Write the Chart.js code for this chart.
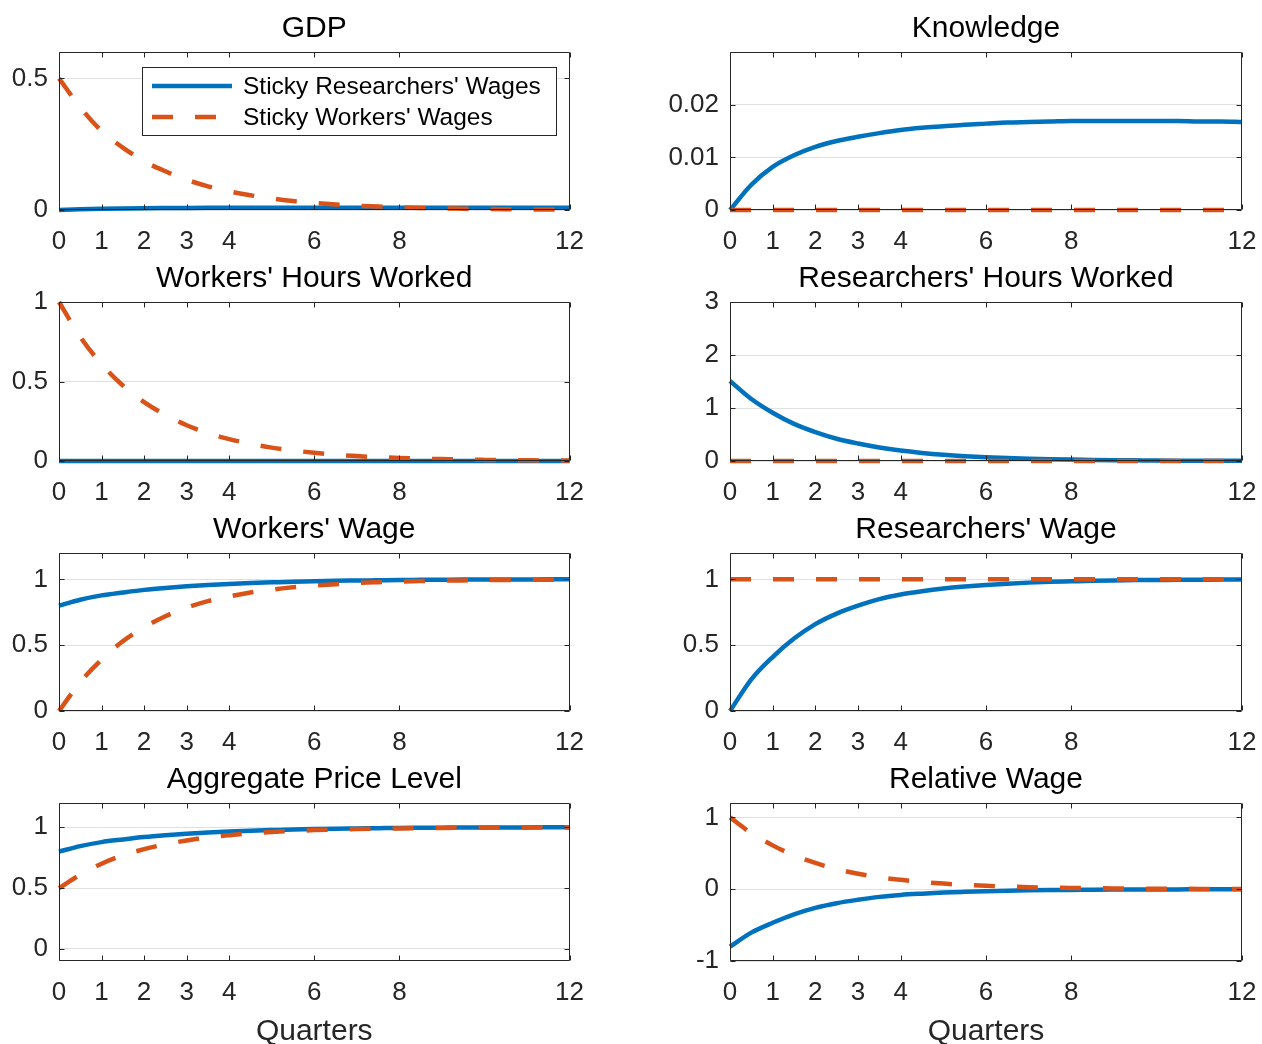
<!DOCTYPE html>
<html>
<head>
<meta charset="utf-8">
<script src="https://cdn.jsdelivr.net/npm/chart.js@4.4.1/dist/chart.umd.min.js"></script>
<style>
  html, body { margin: 0; padding: 0; background: #fff; width: 1262px; height: 1044px; overflow: hidden; }
  .panel { position: absolute; }
</style>
</head>
<body>
<script>
// quarters after the shock, and the tick positions on the x axis
const quarters = [0, 0.5, 1, 1.5, 2, 2.5, 3, 3.5, 4, 4.5, 5, 5.5, 6, 6.5, 7, 7.5, 8, 8.5, 9, 9.5, 10, 10.5, 11, 11.5, 12];
const xTicks = [0, 1, 2, 3, 4, 6, 8, 12];

const seriesNames = ["Sticky Researchers' Wages", "Sticky Workers' Wages"];

// GDP
const gdpResearchers = [0, 0.003, 0.0048, 0.006, 0.0069, 0.0075, 0.008, 0.0083, 0.0085, 0.0087, 0.0088, 0.0089, 0.009, 0.009, 0.009, 0.009, 0.009, 0.009, 0.009, 0.009, 0.0089, 0.0089, 0.0089, 0.0088, 0.0088];
const gdpWorkers = [0.5, 0.39, 0.30, 0.237, 0.185, 0.147, 0.115, 0.09, 0.071, 0.056, 0.044, 0.034, 0.027, 0.021, 0.016, 0.013, 0.01, 0.008, 0.006, 0.005, 0.004, 0.003, 0.0025, 0.002, 0.0015];
const gdpTicks = [0, 0.5];

// Knowledge
const knowResearchers = [0, 0.0048, 0.0082, 0.0104, 0.012, 0.0131, 0.0139, 0.0146, 0.0152, 0.0156, 0.0159, 0.0162, 0.0164, 0.0166, 0.0167, 0.0168, 0.0169, 0.0169, 0.0169, 0.0169, 0.0169, 0.0169, 0.0168, 0.0168, 0.0167];
const knowWorkers = [0, 0, 0, 0, 0, 0, 0, 0, 0, 0, 0, 0, 0, 0, 0, 0, 0, 0, 0, 0, 0, 0, 0, 0, 0];
const knowTicks = [0, 0.01, 0.02];

// Workers' hours worked
const whResearchers = [0, 0, 0, 0, 0, 0, 0, 0, 0, 0, 0, 0, 0, 0, 0, 0, 0, 0, 0, 0, 0, 0, 0, 0, 0];
const whWorkers = [1.0, 0.78, 0.61, 0.475, 0.37, 0.29, 0.225, 0.175, 0.138, 0.108, 0.084, 0.066, 0.052, 0.04, 0.031, 0.024, 0.019, 0.015, 0.012, 0.009, 0.007, 0.0055, 0.0045, 0.0035, 0.003];
const whTicks = [0, 0.5, 1];

// Researchers' hours worked
const rhResearchers = [1.51, 1.17, 0.91, 0.70, 0.545, 0.42, 0.33, 0.255, 0.197, 0.153, 0.118, 0.091, 0.071, 0.055, 0.042, 0.033, 0.026, 0.02, 0.015, 0.012, 0.009, 0.007, 0.0055, 0.004, 0.003];
const rhWorkers = [0, 0, 0, 0, 0, 0, 0, 0, 0, 0, 0, 0, 0, 0, 0, 0, 0, 0, 0, 0, 0, 0, 0, 0, 0];
const rhTicks = [0, 1, 2, 3];

// Workers' wage
const wwResearchers = [0.80, 0.845, 0.878, 0.90, 0.92, 0.935, 0.947, 0.957, 0.965, 0.972, 0.977, 0.982, 0.986, 0.989, 0.991, 0.993, 0.995, 0.996, 0.997, 0.998, 0.998, 0.999, 0.999, 1.0, 1.0];
const wwWorkers = [0, 0.22, 0.39, 0.53, 0.635, 0.72, 0.785, 0.835, 0.87, 0.90, 0.922, 0.94, 0.953, 0.963, 0.972, 0.978, 0.983, 0.987, 0.99, 0.992, 0.994, 0.995, 0.996, 0.997, 0.998];
const wwTicks = [0, 0.5, 1];

// Researchers' wage
const rwResearchers = [0, 0.24, 0.41, 0.55, 0.66, 0.74, 0.80, 0.85, 0.885, 0.91, 0.93, 0.945, 0.957, 0.967, 0.975, 0.981, 0.985, 0.989, 0.992, 0.994, 0.995, 0.996, 0.997, 0.998, 0.999];
const rwWorkers = [1, 1, 1, 1, 1, 1, 1, 1, 1, 1, 1, 1, 1, 1, 1, 1, 1, 1, 1, 1, 1, 1, 1, 1, 1];
const rwTicks = [0, 0.5, 1];

// Aggregate price level
const apResearchers = [0.80, 0.845, 0.878, 0.90, 0.92, 0.935, 0.947, 0.957, 0.965, 0.972, 0.977, 0.982, 0.986, 0.989, 0.991, 0.993, 0.995, 0.996, 0.997, 0.998, 0.998, 0.999, 0.999, 1.0, 1.0];
const apWorkers = [0.5, 0.61, 0.70, 0.77, 0.82, 0.86, 0.892, 0.917, 0.935, 0.95, 0.961, 0.97, 0.977, 0.982, 0.986, 0.989, 0.991, 0.993, 0.995, 0.996, 0.997, 0.998, 0.998, 0.999, 0.999];
const apTicks = [0, 0.5, 1];

// Relative wage
const relResearchers = [-0.80, -0.605, -0.468, -0.35, -0.26, -0.195, -0.147, -0.107, -0.08, -0.062, -0.047, -0.037, -0.029, -0.022, -0.016, -0.012, -0.01, -0.007, -0.005, -0.004, -0.003, -0.003, -0.002, -0.002, -0.001];
const relWorkers = [1, 0.78, 0.61, 0.47, 0.365, 0.28, 0.215, 0.165, 0.13, 0.10, 0.078, 0.06, 0.047, 0.037, 0.028, 0.022, 0.017, 0.013, 0.01, 0.008, 0.006, 0.005, 0.004, 0.003, 0.002];
const relTicks = [-1, 0, 1];

const BLUE = '#0072BD';
const ORANGE = '#D95319';
const AXIS = '#262626';
const FONT = "'Liberation Sans', Arial, Helvetica, sans-serif";

const panels = [
  { title: 'GDP', r: gdpResearchers, w: gdpWorkers, min: 0, max: 0.6, ticks: gdpTicks, col: 0, row: 0, legend: true },
  { title: 'Knowledge', r: knowResearchers, w: knowWorkers, min: 0, max: 0.03, ticks: knowTicks, col: 1, row: 0 },
  { title: "Workers' Hours Worked", r: whResearchers, w: whWorkers, min: 0, max: 1, ticks: whTicks, col: 0, row: 1 },
  { title: "Researchers' Hours Worked", r: rhResearchers, w: rhWorkers, min: 0, max: 3, ticks: rhTicks, col: 1, row: 1 },
  { title: "Workers' Wage", r: wwResearchers, w: wwWorkers, min: 0, max: 1.2, ticks: wwTicks, col: 0, row: 2 },
  { title: "Researchers' Wage", r: rwResearchers, w: rwWorkers, min: 0, max: 1.2, ticks: rwTicks, col: 1, row: 2 },
  { title: 'Aggregate Price Level', r: apResearchers, w: apWorkers, min: -0.1, max: 1.2, ticks: apTicks, col: 0, row: 3 },
  { title: 'Relative Wage', r: relResearchers, w: relWorkers, min: -1, max: 1.2, ticks: relTicks, col: 1, row: 3 },
];

// page geometry of the subplot grid
const colGeom = [
  { left: 0, width: 600, axisW: 59, padRight: 30 },
  { left: 640, width: 640, axisW: 90, padRight: 38 },
];
const rowTop = [52, 302, 553, 803];
const rowBottom = [210, 461, 711, 961];
const TITLE_H = 44;

// box + inward tick marks on all four sides, like MATLAB axes
const boxPlugin = {
  id: 'matlabBox',
  afterDatasetsDraw(chart) {
    const { ctx, chartArea: a, scales: { x, y } } = chart;
    const L = Math.round(a.left) + 0.5, R = Math.round(a.right) - 0.5;
    const T = Math.round(a.top) + 0.5, B = Math.round(a.bottom) - 0.5;
    ctx.save();
    ctx.strokeStyle = AXIS;
    ctx.lineWidth = 1;
    ctx.beginPath();
    xTicks.forEach(v => {
      const px = Math.round(x.getPixelForValue(v)) + 0.5;
      ctx.moveTo(px, B); ctx.lineTo(px, B - 5);
      ctx.moveTo(px, T); ctx.lineTo(px, T + 5);
    });
    y.ticks.forEach(t => {
      const py = Math.round(y.getPixelForValue(t.value)) + 0.5;
      ctx.moveTo(L, py); ctx.lineTo(L + 5, py);
      ctx.moveTo(R, py); ctx.lineTo(R - 5, py);
    });
    ctx.rect(L, T, R - L, B - T);
    ctx.stroke();
    ctx.restore();
  }
};

const legendPlugin = {
  id: 'matlabLegend',
  afterDraw(chart, args, opts) {
    if (!opts.show) return;
    const { ctx, chartArea: a } = chart;
    const bx = a.left + 83, by = a.top + 15, bw = 414, bh = 68;
    ctx.save();
    ctx.fillStyle = '#fff';
    ctx.fillRect(bx, by, bw, bh);
    ctx.strokeStyle = AXIS;
    ctx.lineWidth = 1;
    ctx.strokeRect(Math.round(bx) + 0.5, Math.round(by) + 0.5, bw, bh);
    const rows = [by + 19, by + 50];
    chart.data.datasets.forEach((ds, i) => {
      const yy = rows[i];
      ctx.strokeStyle = ds.borderColor;
      ctx.lineWidth = ds.borderWidth;
      ctx.setLineDash(ds.borderDash || []);
      ctx.beginPath();
      ctx.moveTo(bx + 10, yy);
      ctx.lineTo(bx + 90, yy);
      ctx.stroke();
      ctx.setLineDash([]);
      ctx.fillStyle = '#000';
      ctx.font = '24.5px ' + FONT;
      ctx.textBaseline = 'middle';
      ctx.fillText(ds.label, bx + 101, yy + 1);
    });
    ctx.restore();
  }
};

panels.forEach(p => {
  const g = colGeom[p.col];
  const plotH = rowBottom[p.row] - rowTop[p.row];
  const last = p.row === 3;
  const xAxisH = last ? 93 : 40;
  const top = rowTop[p.row] - TITLE_H;

  const div = document.createElement('div');
  div.className = 'panel';
  div.style.left = g.left + 'px';
  div.style.top = top + 'px';
  const canvas = document.createElement('canvas');
  canvas.width = g.width;
  canvas.height = TITLE_H + plotH + xAxisH;
  canvas.style.width = g.width + 'px';
  canvas.style.height = canvas.height + 'px';
  div.appendChild(canvas);
  document.body.appendChild(div);

  const yTickVals = p.ticks;

  new Chart(canvas, {
    type: 'line',
    data: {
      datasets: [
        {
          label: seriesNames[0],
          data: quarters.map((q, i) => ({ x: q, y: p.r[i] })),
          borderColor: BLUE,
          borderWidth: 4.5,
          pointRadius: 0,
          cubicInterpolationMode: 'monotone',
          clip: 5,
          order: 2,
        },
        {
          label: seriesNames[1],
          data: quarters.map((q, i) => ({ x: q, y: p.w[i] })),
          borderColor: ORANGE,
          borderWidth: 4.5,
          borderDash: [21, 22],
          borderCapStyle: 'butt',
          pointRadius: 0,
          cubicInterpolationMode: 'monotone',
          clip: 5,
          order: 1,
        },
      ],
    },
    options: {
      responsive: false,
      animation: false,
      devicePixelRatio: 1,
      layout: { padding: { left: 0, right: g.padRight, top: 0, bottom: 0 } },
      plugins: {
        legend: { display: false },
        tooltip: { enabled: false },
        title: {
          display: true,
          fullSize: false,
          text: p.title,
          color: '#000',
          font: { family: FONT, size: 30, weight: 'normal' },
          padding: { top: 2.5, bottom: 5.5 },
        },
        matlabLegend: { show: !!p.legend },
      },
      scales: {
        x: {
          type: 'linear',
          min: 0,
          max: 12,
          afterBuildTicks: s => { s.ticks = xTicks.map(v => ({ value: v })); },
          afterFit: s => { s.height = xAxisH; },
          grid: { display: false, drawTicks: false },
          border: { display: false },
          ticks: {
            color: AXIS,
            font: { family: FONT, size: 26 },
            padding: 16,
            maxRotation: 0,
            autoSkip: false,
            callback: v => String(v),
          },
          title: {
            display: last,
            text: 'Quarters',
            color: AXIS,
            font: { family: FONT, size: 30 },
            padding: { top: 0, bottom: 4 },
          },
        },
        y: {
          min: p.min,
          max: p.max,
          afterBuildTicks: s => { s.ticks = yTickVals.map(v => ({ value: v })); },
          afterFit: s => { s.width = g.axisW; },
          grid: { color: '#e0e0e0', drawTicks: false, lineWidth: 1 },
          border: { display: false },
          ticks: {
            color: AXIS,
            font: { family: FONT, size: 26 },
            padding: 11,
            autoSkip: false,
            callback: v => String(v),
          },
        },
      },
    },
    plugins: [boxPlugin, legendPlugin],
  });
});
</script>
</body>
</html>
